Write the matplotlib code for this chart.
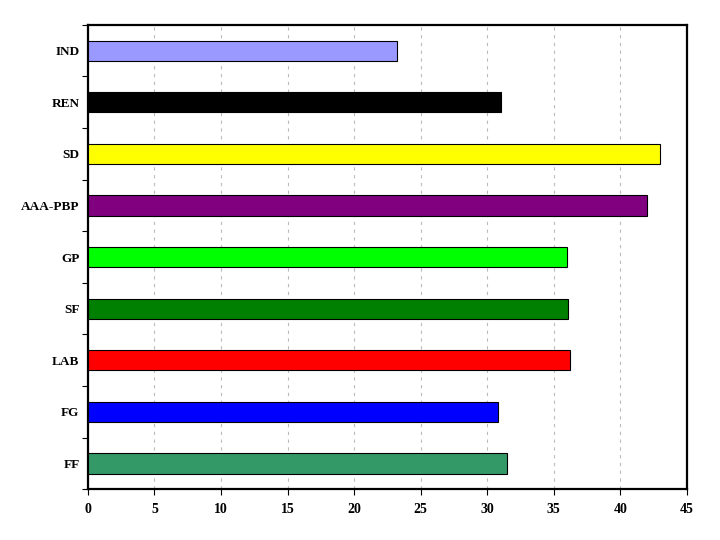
import numpy as np
import matplotlib
matplotlib.use('Agg')
import matplotlib.pyplot as plt

plt.rcParams['font.family'] = ['Liberation Serif', 'DejaVu Serif']
plt.rcParams['font.weight'] = 'bold'

# bottom to top
labels = ['FF', 'FG', 'LAB', 'SF', 'GP', 'AAA-PBP', 'SD', 'REN', 'IND']
values = [31.5, 30.8, 36.2, 36.1, 36.0, 42.0, 43.0, 31.0, 23.2]
colors = ['#339966', '#0000FF', '#FF0000', '#008000', '#00FF00',
          '#800080', '#FFFF00', '#000000', '#9999FF']

fig = plt.figure(figsize=(7.2, 5.4), dpi=100)
ax = fig.add_axes([0.122, 0.094, 0.832, 0.86])

pos = np.arange(len(labels))
ax.barh(pos, values, height=0.39, color=colors, edgecolor='black',
        linewidth=0.8, zorder=3)

ax.set_xlim(0, 45)
ax.set_ylim(-0.5, len(labels) - 0.5)
ax.set_xticks(np.arange(0, 46, 5))
ax.set_xticklabels([str(v) for v in range(0, 46, 5)], fontsize=10, fontweight='bold')

# category ticks at boundaries, labels at centres
ax.set_yticks(np.arange(-0.5, len(labels), 1.0))
ax.set_yticklabels([])
ax.set_yticks(pos, minor=True)
ax.set_yticklabels(labels, minor=True, fontsize=9.5, fontweight='bold')
ax.tick_params(axis='y', which='minor', length=0, pad=6)
ax.tick_params(axis='y', which='major', length=4, direction='out')
ax.tick_params(axis='x', length=4, direction='out', pad=6)

ax.grid(axis='x', linestyle=(0, (3, 4)), color='#BBBBBB', linewidth=0.8, zorder=0)
for s in ax.spines.values():
    s.set_linewidth(1.6)

fig.savefig('out.png', dpi=100)
